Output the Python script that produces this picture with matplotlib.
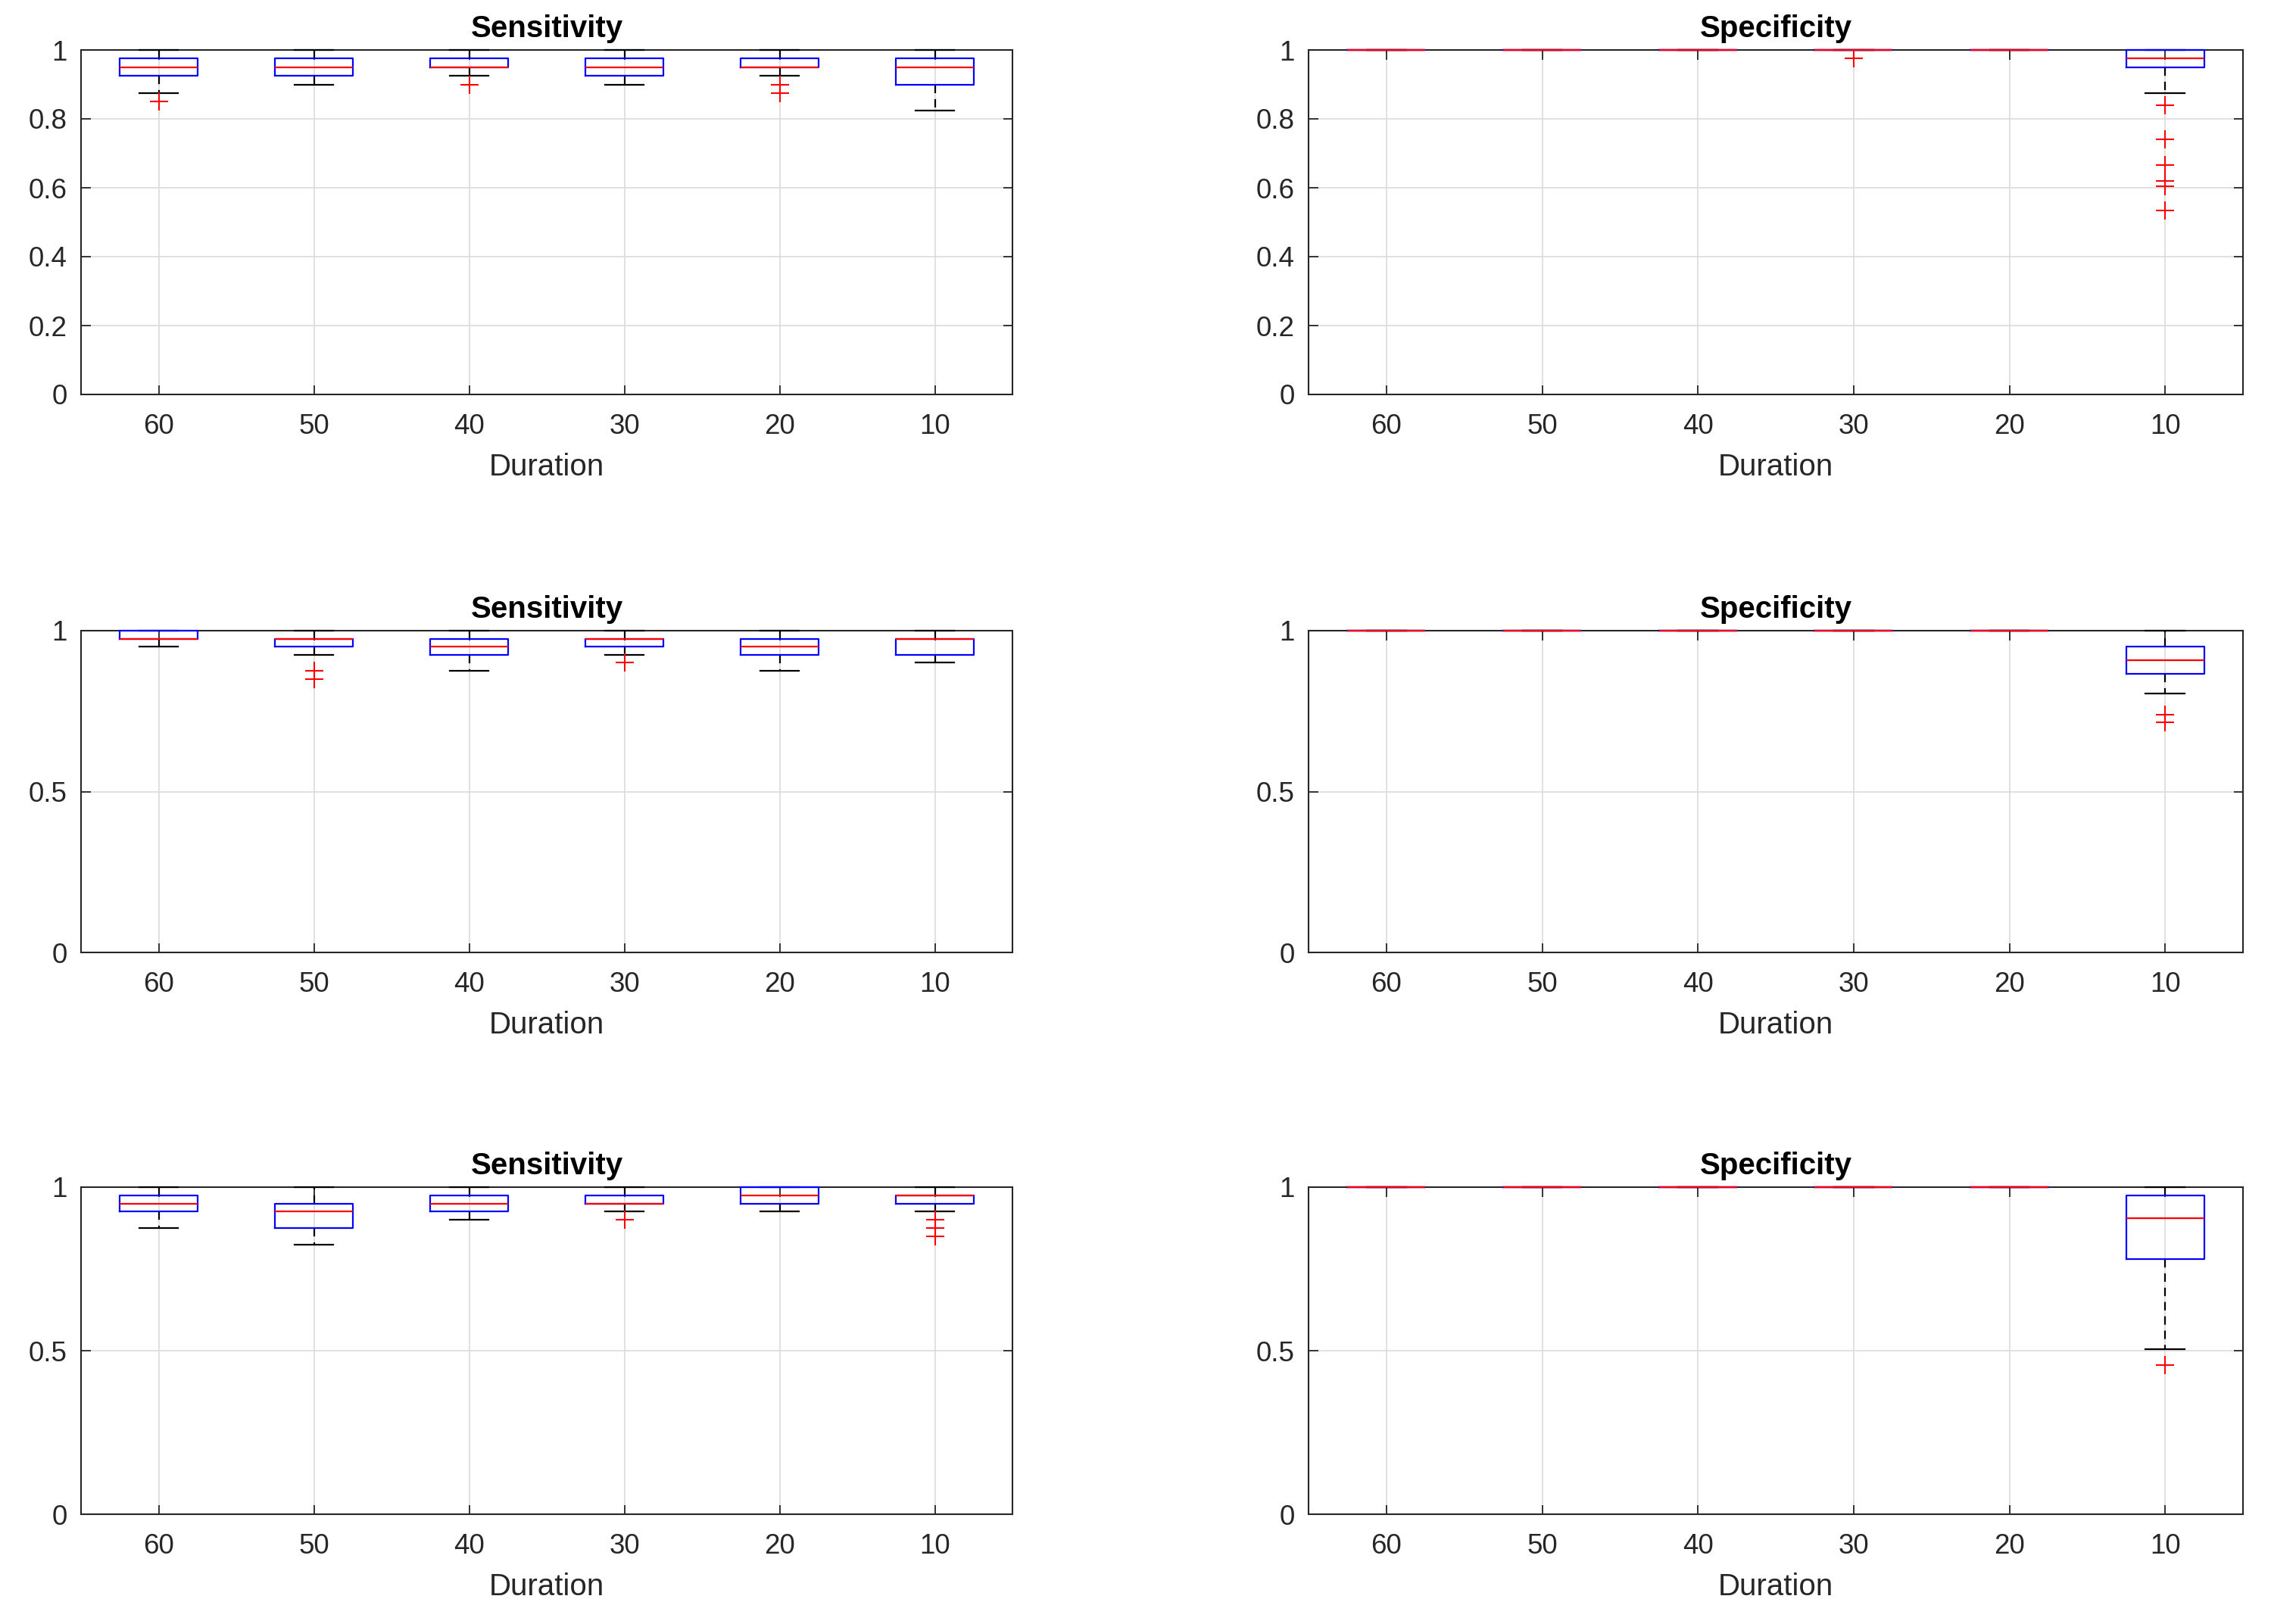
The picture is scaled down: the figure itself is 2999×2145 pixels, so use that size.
import matplotlib
matplotlib.use("Agg")
import matplotlib.pyplot as plt

plt.rcParams['font.family'] = ['Liberation Sans', 'DejaVu Sans']

durations = ['60', '50', '40', '30', '20', '10']

# box statistics, one row per subplot row
sens_med = [[0.95, 0.95, 0.95, 0.95, 0.95, 0.95],
            [0.975, 0.975, 0.95, 0.975, 0.95, 0.975],
            [0.95, 0.925, 0.95, 0.95, 0.975, 0.975]]
sens_q1 = [[0.925, 0.925, 0.95, 0.925, 0.95, 0.9],
           [0.975, 0.95, 0.925, 0.95, 0.925, 0.925],
           [0.925, 0.875, 0.925, 0.95, 0.95, 0.95]]
sens_q3 = [[0.975, 0.975, 0.975, 0.975, 0.975, 0.975],
           [1.0, 0.975, 0.975, 0.975, 0.975, 0.975],
           [0.975, 0.95, 0.975, 0.975, 1.0, 0.975]]
sens_lo = [[0.875, 0.9, 0.925, 0.9, 0.925, 0.825],
           [0.95, 0.925, 0.875, 0.925, 0.875, 0.9],
           [0.875, 0.825, 0.9, 0.925, 0.925, 0.925]]
sens_hi = [[1.0, 1.0, 1.0, 1.0, 1.0, 1.0],
           [1.0, 1.0, 1.0, 1.0, 1.0, 1.0],
           [1.0, 1.0, 1.0, 1.0, 1.0, 1.0]]
sens_out = [[[0.85], [], [0.9], [], [0.9, 0.875], []],
            [[], [0.875, 0.85], [], [0.9], [], []],
            [[], [], [], [0.9], [], [0.9, 0.875, 0.85]]]

spec_med = [[1.0, 1.0, 1.0, 1.0, 1.0, 0.975],
            [1.0, 1.0, 1.0, 1.0, 1.0, 0.908],
            [1.0, 1.0, 1.0, 1.0, 1.0, 0.905]]
spec_q1 = [[1.0, 1.0, 1.0, 1.0, 1.0, 0.95],
           [1.0, 1.0, 1.0, 1.0, 1.0, 0.865],
           [1.0, 1.0, 1.0, 1.0, 1.0, 0.779]]
spec_q3 = [[1.0, 1.0, 1.0, 1.0, 1.0, 1.0],
           [1.0, 1.0, 1.0, 1.0, 1.0, 0.951],
           [1.0, 1.0, 1.0, 1.0, 1.0, 0.975]]
spec_lo = [[1.0, 1.0, 1.0, 1.0, 1.0, 0.875],
           [1.0, 1.0, 1.0, 1.0, 1.0, 0.804],
           [1.0, 1.0, 1.0, 1.0, 1.0, 0.505]]
spec_hi = [[1.0, 1.0, 1.0, 1.0, 1.0, 1.0],
           [1.0, 1.0, 1.0, 1.0, 1.0, 1.0],
           [1.0, 1.0, 1.0, 1.0, 1.0, 1.0]]
spec_out = [[[], [], [], [0.975], [], [0.84, 0.74, 0.665, 0.62, 0.605, 0.535]],
            [[], [], [], [], [], [0.74, 0.716]],
            [[], [], [], [], [], [0.456]]]

yticks_rows = [[0, 0.2, 0.4, 0.6, 0.8, 1], [0, 0.5, 1], [0, 0.5, 1]]
ytick_labels_rows = [['0', '0.2', '0.4', '0.6', '0.8', '1'], ['0', '0.5', '1'], ['0', '0.5', '1']]

AX_COL = '#262626'
TICK_FS = 26.5
LABEL_FS = 29


def make_stats(med, q1, q3, lo, hi, out):
    stats = []
    for i in range(len(med)):
        stats.append(dict(med=med[i], q1=q1[i], q3=q3[i],
                          whislo=lo[i], whishi=hi[i], fliers=out[i]))
    return stats


def draw_panel(ax, stats, title, yticks, yticklabels):
    art = ax.bxp(stats, positions=range(1, len(stats) + 1), widths=0.5,
                 capwidths=0.25, showfliers=True,
                 boxprops=dict(color='#0000ff', lw=1.6),
                 whiskerprops=dict(color='black', lw=1.6, linestyle=(0, (5, 3.5))),
                 capprops=dict(color='black', lw=1.6),
                 medianprops=dict(color='#ff0000', lw=1.6),
                 flierprops=dict(marker='+', markeredgecolor='#ff0000',
                                 markersize=17, markeredgewidth=1.5, linestyle='none'))
    for key, z in [('whiskers', 3), ('caps', 3), ('boxes', 4), ('medians', 5), ('fliers', 5)]:
        for a in art[key]:
            a.set_clip_on(False)
            a.set_zorder(z)

    ax.set_xlim(0.5, len(stats) + 0.5)
    ax.set_ylim(0, 1)
    ax.set_xticks(range(1, len(stats) + 1))
    ax.set_xticklabels(durations)
    ax.set_yticks(yticks)
    ax.set_yticklabels(yticklabels)

    ax.grid(True, color='#dcdcdc', lw=1.2)
    ax.set_axisbelow(True)
    for s in ax.spines.values():
        s.set_color(AX_COL)
        s.set_linewidth(1.5)
        s.set_zorder(2.5)
    ax.tick_params(direction='in', top=True, right=True, length=9, width=1.3,
                   color=AX_COL, labelcolor=AX_COL, labelsize=TICK_FS)
    ax.tick_params(axis='x', pad=18)
    ax.tick_params(axis='y', pad=13)

    ax.set_title(title, fontsize=LABEL_FS, fontweight='bold', pad=12)
    ax.set_xlabel('Duration', fontsize=LABEL_FS, color=AX_COL, labelpad=12)


fig = plt.figure(figsize=(29.99, 21.45), dpi=100)

W, H = 2999, 2145
col_x = [(107, 1337), (1728, 2962)]
row_y = [(66, 521), (833, 1258), (1568, 2000)]

for r in range(3):
    y0, y1 = row_y[r]
    # left: sensitivity
    x0, x1 = col_x[0]
    ax = fig.add_axes([x0 / W, 1 - y1 / H, (x1 - x0) / W, (y1 - y0) / H])
    draw_panel(ax, make_stats(sens_med[r], sens_q1[r], sens_q3[r], sens_lo[r], sens_hi[r], sens_out[r]),
               'Sensitivity', yticks_rows[r], ytick_labels_rows[r])
    # right: specificity
    x0, x1 = col_x[1]
    ax = fig.add_axes([x0 / W, 1 - y1 / H, (x1 - x0) / W, (y1 - y0) / H])
    draw_panel(ax, make_stats(spec_med[r], spec_q1[r], spec_q3[r], spec_lo[r], spec_hi[r], spec_out[r]),
               'Specificity', yticks_rows[r], ytick_labels_rows[r])

fig.savefig('out.png', dpi=100, facecolor='white')
